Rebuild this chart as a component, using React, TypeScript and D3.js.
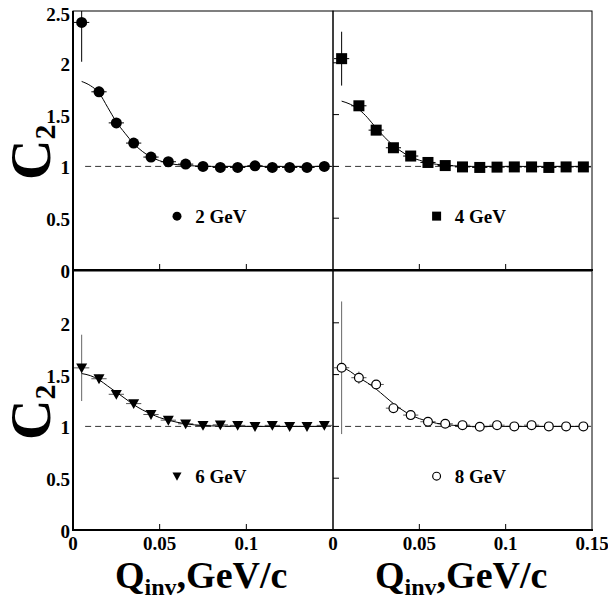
import React from 'react';
import * as d3 from 'd3';

// Q_inv bin centres (GeV/c)
const qBins = [0.005, 0.015, 0.025, 0.035, 0.045, 0.055, 0.065, 0.075, 0.085, 0.095, 0.105, 0.115, 0.125, 0.135, 0.145];

// C2 values
const c2At2GeV = [2.39, 1.72, 1.42, 1.225, 1.09, 1.045, 1.022, 1.0, 0.99, 0.99, 1.006, 0.99, 0.99, 0.99, 1.0];
const c2At4GeV = [2.04, 1.585, 1.35, 1.18, 1.10, 1.038, 1.008, 0.995, 0.99, 0.993, 0.995, 0.995, 0.99, 0.995, 0.995];
const c2At6GeV = [1.565, 1.46, 1.31, 1.22, 1.115, 1.06, 1.025, 1.01, 1.015, 1.01, 1.0, 1.01, 1.0, 1.0, 1.01];
const c2At8GeV = [1.566, 1.47, 1.405, 1.176, 1.109, 1.045, 1.025, 1.012, 0.996, 1.012, 1.0, 1.012, 1.0, 1.0, 1.0];

// vertical errors
const err2GeV = [0.38, 0.05, 0.03, 0.02, 0.02, 0.01, 0.01, 0.01, 0.01, 0.01, 0.01, 0.01, 0.01, 0.01, 0.01];
const err4GeV = [0.26, 0.04, 0.03, 0.02, 0.02, 0.01, 0.01, 0.01, 0.01, 0.01, 0.01, 0.01, 0.01, 0.01, 0.01];
const err6GeV = [0.32, 0.04, 0.03, 0.02, 0.02, 0.01, 0.01, 0.01, 0.01, 0.01, 0.01, 0.01, 0.01, 0.01, 0.01];
const err8GeV = [0.64, 0.06, 0.04, 0.03, 0.02, 0.02, 0.01, 0.01, 0.01, 0.01, 0.01, 0.01, 0.01, 0.01, 0.01];
const qHalfWidth = 0.0044;

// fitted curves
const fitQ = [0.005, 0.01, 0.015, 0.02, 0.025, 0.03, 0.035, 0.04, 0.045, 0.05, 0.055, 0.06, 0.07, 0.08, 0.1, 0.125, 0.145];
const fit2GeV = [1.82, 1.78, 1.71, 1.57, 1.43, 1.32, 1.22, 1.145, 1.09, 1.055, 1.03, 1.017, 1.005, 1.0, 1.0, 1.0, 1.0];
const fit4GeV = [1.63, 1.6, 1.55, 1.47, 1.37, 1.28, 1.2, 1.14, 1.09, 1.06, 1.035, 1.02, 1.005, 1.0, 1.0, 1.0, 1.0];
const fit6GeV = [1.51, 1.49, 1.45, 1.39, 1.33, 1.27, 1.21, 1.16, 1.12, 1.085, 1.06, 1.04, 1.015, 1.005, 1.0, 1.0, 1.0];
const fit8GeV = [1.575, 1.53, 1.47, 1.42, 1.36, 1.29, 1.22, 1.16, 1.11, 1.075, 1.05, 1.03, 1.01, 1.0, 1.0, 1.0, 1.0];

const energyLabels = ['2 GeV', '4 GeV', '6 GeV', '8 GeV'];
const xTickValues = [0, 0.05, 0.1, 0.15];
const yTickValues = [0, 0.5, 1, 1.5, 2, 2.5];

const FONT = '"Liberation Serif", "DejaVu Serif", serif';

const panels = [
  { col: 0, row: 0, c2: c2At2GeV, err: err2GeV, fit: fit2GeV, marker: 'circle', label: energyLabels[0] },
  { col: 1, row: 0, c2: c2At4GeV, err: err4GeV, fit: fit4GeV, marker: 'square', label: energyLabels[1] },
  { col: 0, row: 1, c2: c2At6GeV, err: err6GeV, fit: fit6GeV, marker: 'triangle', label: energyLabels[2] },
  { col: 1, row: 1, c2: c2At8GeV, err: err8GeV, fit: fit8GeV, marker: 'open', label: energyLabels[3] },
];

const colRange = [[73, 333], [333, 592]];
const rowRange = [[270, 11], [530, 271]];

function Marker({ type, x, y, size }: { type: string; x: number; y: number; size: number }) {
  if (type === 'circle') return <circle cx={x} cy={y} r={size / 2} fill="#000" />;
  if (type === 'square') return <rect x={x - size / 2} y={y - size / 2} width={size} height={size} fill="#000" />;
  if (type === 'triangle') {
    const h = size / 2;
    return <path d={`M${x - h},${y - h * 0.8} L${x + h},${y - h * 0.8} L${x},${y + h} Z`} fill="#000" />;
  }
  return <circle cx={x} cy={y} r={size / 2 - 0.6} fill="#fff" stroke="#000" strokeWidth={1.2} />;
}

function Panel({ p, idx }: { p: any; idx: number }) {
  const x = d3.scaleLinear().domain([0, 0.15]).range(colRange[p.col]);
  const y = d3.scaleLinear().domain([0, 2.5]).range(rowRange[p.row]);
  const [x0, x1] = colRange[p.col];
  const [yb, yt] = rowRange[p.row];
  const clipId = `clip-${idx}`;
  const line = d3.line<number>()
    .x((_, i) => x(fitQ[i]))
    .y((d) => y(d))
    .curve(d3.curveMonotoneX);
  const greyErr = p.marker === 'open' || p.marker === 'triangle';

  return (
    <g>
      <defs>
        <clipPath id={clipId}>
          <rect x={x0} y={yt} width={x1 - x0} height={yb - yt} />
        </clipPath>
      </defs>
      <g clipPath={`url(#${clipId})`}>
        <line x1={x(0.007)} x2={x(0.15)} y1={y(1)} y2={y(1)} stroke="#333" strokeWidth={1} strokeDasharray="6,4" />
        {p.c2.map((v: number, i: number) => (
          <g key={i}>
            <line x1={x(qBins[i])} x2={x(qBins[i])} y1={y(v - p.err[i])} y2={y(v + p.err[i])}
              stroke={greyErr ? '#666' : '#000'} strokeWidth={1} />
            <line x1={x(qBins[i] - qHalfWidth)} x2={x(qBins[i] + qHalfWidth)} y1={y(v)} y2={y(v)}
              stroke={greyErr ? '#555' : '#000'} strokeWidth={1} />
          </g>
        ))}
        <path d={line(p.fit) || ''} fill="none" stroke="#000" strokeWidth={1} />
        {p.c2.map((v: number, i: number) => (
          <Marker key={i} type={p.marker} x={x(qBins[i])} y={y(v)} size={p.marker === 'open' ? 10 : 11} />
        ))}
      </g>
      {/* frame */}
      <rect x={x0} y={yt} width={x1 - x0} height={yb - yt} fill="none" stroke="#000" strokeWidth={1} />
      <line x1={x0 - 1} x2={x1 + 1} y1={yb} y2={yb} stroke="#000" strokeWidth={2} />
      {p.col === 0 && <line x1={x0} x2={x0} y1={yt} y2={yb + 1} stroke="#000" strokeWidth={2} />}
      {[0.05, 0.1].map((t) => (
        <line key={t} x1={x(t)} x2={x(t)} y1={yb} y2={yb - 6} stroke="#000" strokeWidth={1} />
      ))}
      {p.col === 1 && [0.5, 1, 1.5, 2].map((t) => (
        <line key={t} x1={x0} x2={x0 + 6} y1={y(t)} y2={y(t)} stroke="#000" strokeWidth={1} />
      ))}
      {/* y tick labels */}
      {p.col === 0 && yTickValues.filter((t) => p.row === 0 || t < 2.5).map((t) => (
        <text key={t} x={70} y={y(t) + (t === 2.5 ? 3 : 1.5)} textAnchor="end" dominantBaseline="central"
          fontFamily={FONT} fontWeight="bold" fontSize={19}>{t}</text>
      ))}
      {/* x tick labels */}
      {p.row === 1 && xTickValues.filter((t) => p.col === 1 || t < 0.15).map((t) => (
        <text key={t} x={x(t)} y={550} textAnchor="middle" fontFamily={FONT} fontWeight="bold" fontSize={19}>{t}</text>
      ))}
      {/* legend */}
      <Marker type={p.marker} x={x(0.06)} y={y(0.52)} size={9} />
      <text x={x(0.0705)} y={y(0.52) + 6.5} fontFamily={FONT} fontWeight="bold" fontSize={19}>{p.label}</text>
    </g>
  );
}

export default function App() {
  return (
    <svg width={608} height={602} style={{ position: 'absolute', left: 0, top: 0, background: '#fff' }}>
      <rect width={608} height={602} fill="#fff" />
      {panels.map((p, i) => <Panel key={i} p={p} idx={i} />)}
      {/* y axis titles */}
      {[180, 440].map((yy) => (
        <text key={yy} transform={`translate(50,${yy}) rotate(-90)`} fontFamily={FONT} fontWeight="bold" fontSize={56}>
          C<tspan fontSize={30} dy={5}>2</tspan>
        </text>
      ))}
      {/* x axis titles */}
      {[115, 375].map((xx) => (
        <text key={xx} x={xx} y={588} fontFamily={FONT} fontWeight="bold" fontSize={38}>
          Q<tspan fontSize={24} dy={7}>inv</tspan><tspan dy={-7}>,GeV/c</tspan>
        </text>
      ))}
    </svg>
  );
}
